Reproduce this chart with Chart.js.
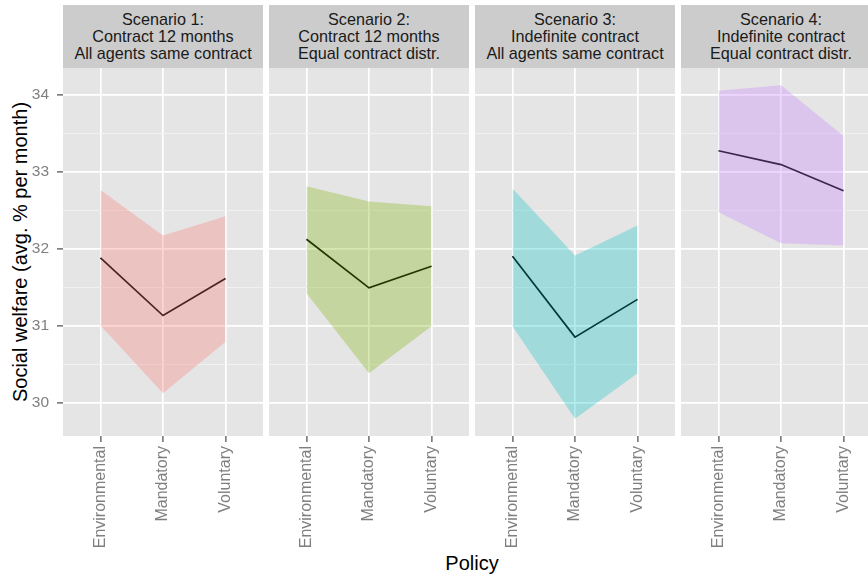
<!DOCTYPE html>
<html>
<head>
<meta charset="utf-8">
<script src="https://cdn.jsdelivr.net/npm/chart.js@4"></script>
<style>
  html, body { margin: 0; padding: 0; overflow: hidden; background: #fff; }
  body { width: 868px; height: 576px; font-family: "Liberation Sans", Arial, sans-serif; }
  #wrap { position: relative; width: 882px; height: 576px; }
  .strip { position: absolute; background: #ccc; color: #1a1a1a; font-size: 16.2px; line-height: 16.7px;
           display: flex; flex-direction: column; justify-content: center; align-items: center; text-align: center; }
  .panel { position: absolute; }
  #ytitle { position: absolute; width: 360px; text-align: center; font-size: 20px; color: #000;
            transform: translate(-50%, -50%) rotate(-90deg); white-space: nowrap; }
  #xtitle { position: absolute; font-size: 20px; color: #000; transform: translate(-50%, -50%); white-space: nowrap; }
</style>
</head>
<body>
<div id="wrap">
  <div id="ytitle">Social welfare (avg. % per month)</div>
  <div id="xtitle">Policy</div>
</div>
<script>
// données
const policies = ["Environmental", "Mandatory", "Voluntary"];
const scenarioTitles = [
    ["Scenario 1:", "Contract 12 months", "All agents same contract"],
    ["Scenario 2:", "Contract 12 months", "Equal contract distr."],
    ["Scenario 3:", "Indefinite contract", "All agents same contract"],
    ["Scenario 4:", "Indefinite contract", "Equal contract distr."]
];
const welfareMean = [
    [31.88, 31.13, 31.61],
    [32.12, 31.49, 31.77],
    [31.90, 30.85, 31.34],
    [33.27, 33.09, 32.75]
];
const welfareLow = [
    [31.00, 30.12, 30.79],
    [31.42, 30.38, 30.99],
    [30.99, 29.79, 30.38],
    [32.47, 32.07, 32.04]
];
const welfareHigh = [
    [32.76, 32.17, 32.42],
    [32.81, 32.61, 32.55],
    [32.78, 31.91, 32.30],
    [34.05, 34.12, 33.46]
];
const yMajorTicks = [30, 31, 32, 33, 34];
const yMinorTicks = [30.5, 31.5, 32.5, 33.5];
const scenarioColors = ["#F8766D", "#7CAE00", "#00BFC4", "#C77CFF"];

// mise en page
const PLOT_LEFT = 63, PLOT_TOP = 68, PANEL_W = 200, GAP = 6, AXIS_H = 130, PLOT_H = 368;
const Y_MIN = 29.566, Y_MAX = 34.344;

Chart.defaults.font.family = '"Liberation Sans", Arial, sans-serif';

const wrap = document.getElementById("wrap");
const ytitle = document.getElementById("ytitle");
ytitle.style.left = "20px";
ytitle.style.top = (PLOT_TOP + PLOT_H / 2) + "px";
const xtitle = document.getElementById("xtitle");
xtitle.style.left = (PLOT_LEFT + (4 * PANEL_W + 3 * GAP) / 2) + "px";
xtitle.style.top = "563px";

const isMajor = v => yMajorTicks.includes(v);

function hexA(hex, a) {
    const n = parseInt(hex.slice(1), 16);
    return `rgba(${n >> 16},${(n >> 8) & 255},${n & 255},${a})`;
}

const panelBg = {
    id: "panelBg",
    beforeDraw(chart) {
        const { ctx, chartArea: a } = chart;
        ctx.save();
        ctx.fillStyle = "#e5e5e5";
        ctx.fillRect(a.left, a.top, a.right - a.left, a.bottom - a.top);
        ctx.restore();
    }
};

scenarioTitles.forEach((title, i) => {
    const first = i === 0;
    const panelLeft = PLOT_LEFT + i * (PANEL_W + GAP);

    // bandeau du facet
    const strip = document.createElement("div");
    strip.className = "strip";
    strip.style.left = panelLeft + "px";
    strip.style.top = "5px";
    strip.style.width = PANEL_W + "px";
    strip.style.height = (PLOT_TOP - 5) + "px";
    strip.innerHTML = title.map(t => `<div>${t}</div>`).join("");
    wrap.appendChild(strip);

    const canvas = document.createElement("canvas");
    canvas.className = "panel";
    const w = PANEL_W + (first ? PLOT_LEFT : 0);
    canvas.width = w;
    canvas.height = PLOT_H + AXIS_H;
    canvas.style.left = (first ? 0 : panelLeft) + "px";
    canvas.style.top = PLOT_TOP + "px";
    wrap.appendChild(canvas);

    const pts = arr => arr.map((v, j) => ({ x: j, y: v }));

    new Chart(canvas, {
        type: "line",
        data: {
            datasets: [
                { data: pts(welfareLow[i]), borderWidth: 0, pointRadius: 0, fill: false, order: 1 },
                { data: pts(welfareHigh[i]), borderWidth: 0, pointRadius: 0, fill: "-1",
                  backgroundColor: hexA(scenarioColors[i], 0.3), order: 0 },
                { data: pts(welfareMean[i]), borderColor: "#000", borderWidth: 1.7, pointRadius: 0,
                  fill: false, tension: 0, order: 2 }
            ]
        },
        options: {
            responsive: false,
            animation: false,
            layout: { padding: 0 },
            plugins: { legend: { display: false }, tooltip: { enabled: false } },
            scales: {
                x: {
                    type: "linear",
                    min: -0.6,
                    max: 2.6,
                    afterBuildTicks: s => { s.ticks = policies.map((p, j) => ({ value: j })); },
                    afterFit: s => { s.height = AXIS_H; s.paddingLeft = 0; s.paddingRight = 0; },
                    grid: { color: "#fff", lineWidth: 1.7, tickColor: "#7f7f7f", tickLength: 6, tickWidth: 1.7 },
                    border: { display: false },
                    ticks: {
                        callback: v => policies[v],
                        minRotation: 90, maxRotation: 90, autoSkip: false,
                        padding: 4, color: "#7f7f7f", font: { size: 16 }
                    }
                },
                y: {
                    min: Y_MIN,
                    max: Y_MAX,
                    afterBuildTicks: s => {
                        s.ticks = [...yMajorTicks, ...yMinorTicks].sort((a, b) => a - b).map(v => ({ value: v }));
                    },
                    afterFit: s => { s.width = first ? PLOT_LEFT : 0; s.paddingTop = 0; s.paddingBottom = 0; },
                    grid: {
                        color: c => (c.tick && isMajor(c.tick.value)) ? "#fff" : "#f2f2f2",
                        lineWidth: c => (c.tick && isMajor(c.tick.value)) ? 1.7 : 0.9,
                        tickColor: c => (first && c.tick && isMajor(c.tick.value)) ? "#7f7f7f" : "rgba(0,0,0,0)",
                        tickLength: 6,
                        tickWidth: 1.7
                    },
                    border: { display: false },
                    ticks: {
                        display: first,
                        autoSkip: false,
                        callback: v => isMajor(v) ? String(v) : "",
                        padding: 8, color: "#7f7f7f", font: { size: 15.5 }
                    }
                }
            }
        },
        plugins: [panelBg]
    });
});
</script>
</body>
</html>
